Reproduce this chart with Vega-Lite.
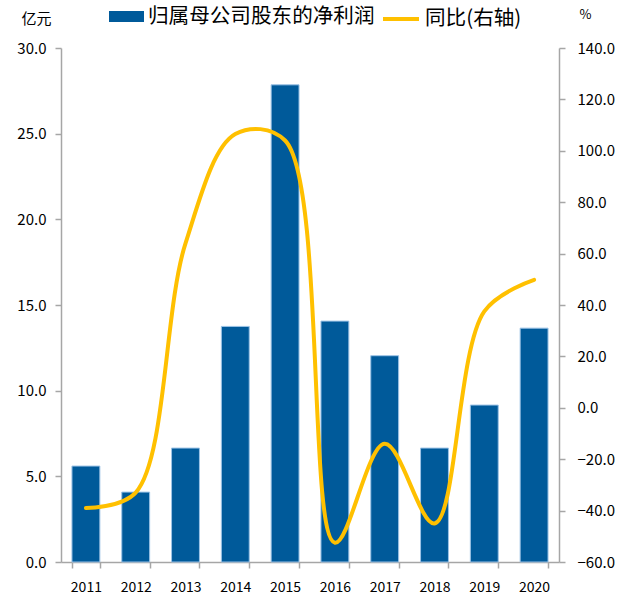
{
  "$schema": "https://vega.github.io/schema/vega-lite/v6.json",
  "autosize": {"type": "none"},
  "width": 498,
  "height": 514,
  "padding": {"left": 61, "top": 48, "right": 72, "bottom": 41},
  "background": "white",
  "config": {
    "view": {"stroke": null},
    "font": "Noto Sans CJK SC",
    "axis": {"grid": false, "domainColor": "#a6a6a6", "tickColor": "#a6a6a6", "labelColor": "#000000", "labelFont": "Noto Sans CJK SC", "labelFontSize": 15, "titleFont": "Noto Sans CJK SC", "titleColor": "#000000", "titleFontWeight": "normal", "domainWidth": 1.5, "tickWidth": 1.5}
  },
  "data": {
    "values": [
      {"year": "2011", "profit": 5.60, "yoy": -39.0, "s1": "归属母公司股东的净利润", "s2": "同比(右轴)"},
      {"year": "2012", "profit": 4.08, "yoy": -33.0, "s1": "归属母公司股东的净利润", "s2": "同比(右轴)"},
      {"year": "2013", "profit": 6.65, "yoy": 64.0, "s1": "归属母公司股东的净利润", "s2": "同比(右轴)"},
      {"year": "2014", "profit": 13.75, "yoy": 106.5, "s1": "归属母公司股东的净利润", "s2": "同比(右轴)"},
      {"year": "2015", "profit": 27.85, "yoy": 104.0, "s1": "归属母公司股东的净利润", "s2": "同比(右轴)"},
      {"year": "2016", "profit": 14.06, "yoy": -52.5, "s1": "归属母公司股东的净利润", "s2": "同比(右轴)"},
      {"year": "2017", "profit": 12.04, "yoy": -14.0, "s1": "归属母公司股东的净利润", "s2": "同比(右轴)"},
      {"year": "2018", "profit": 6.65, "yoy": -45.0, "s1": "归属母公司股东的净利润", "s2": "同比(右轴)"},
      {"year": "2019", "profit": 9.16, "yoy": 37.5, "s1": "归属母公司股东的净利润", "s2": "同比(右轴)"},
      {"year": "2020", "profit": 13.65, "yoy": 49.8, "s1": "归属母公司股东的净利润", "s2": "同比(右轴)"}
    ]
  },
  "encoding": {
    "x": {
      "field": "year", "type": "nominal",
      "scale": {"paddingInner": 0.44, "paddingOuter": 0.22},
      "axis": {"title": null, "labelAngle": 0, "tickBand": "extent", "tickSize": 6, "labelPadding": 12, "labelFontSize": 14}
    }
  },
  "layer": [
    {
      "mark": {"type": "bar", "stroke": "#9dc3e6", "strokeWidth": 1},
      "encoding": {
        "y": {
          "field": "profit", "type": "quantitative",
          "scale": {"domain": [0, 30], "nice": false},
          "axis": {"title": "亿元", "titleAngle": 0, "titleX": -25, "titleY": -30, "titleAlign": "center", "titleBaseline": "middle", "titleFontSize": 15, "values": [0, 5, 10, 15, 20, 25, 30], "format": ".1f", "tickSize": 6, "labelPadding": 9}
        },
        "fill": {
          "field": "s1", "type": "nominal",
          "scale": {"range": ["#005a9a"]},
          "legend": {"title": null, "orient": "none", "legendX": 48, "legendY": -49, "symbolType": "M-1,-0.32H1V0.32H-1Z", "symbolSize": 1225, "symbolStrokeWidth": 0, "labelFontSize": 20.6, "labelColor": "#000000", "labelFont": "Noto Sans CJK SC", "labelOffset": 4, "labelLimit": 0}
        }
      }
    },
    {
      "mark": {"type": "line", "interpolate": "catmull-rom", "strokeWidth": 4, "strokeCap": "round"},
      "encoding": {
        "y": {
          "field": "yoy", "type": "quantitative",
          "scale": {"domain": [-60, 140], "nice": false},
          "axis": {"orient": "right", "title": "%", "titleAngle": 0, "titleX": 26, "titleY": -34, "titleAlign": "center", "titleBaseline": "middle", "titleFontSize": 13, "values": [-60, -40, -20, 0, 20, 40, 60, 80, 100, 120, 140], "format": ".1f", "tickSize": 6, "labelPadding": 12}
        },
        "stroke": {
          "field": "s2", "type": "nominal",
          "scale": {"range": ["#ffc000"]},
          "legend": {"title": null, "orient": "none", "legendX": 320, "legendY": -49, "symbolType": "stroke", "symbolSize": 1296, "symbolStrokeWidth": 4, "labelFontSize": 20.6, "labelColor": "#000000", "labelFont": "Noto Sans CJK SC", "labelOffset": 4, "labelLimit": 0}
        }
      }
    }
  ],
  "resolve": {"scale": {"y": "independent"}}
}
